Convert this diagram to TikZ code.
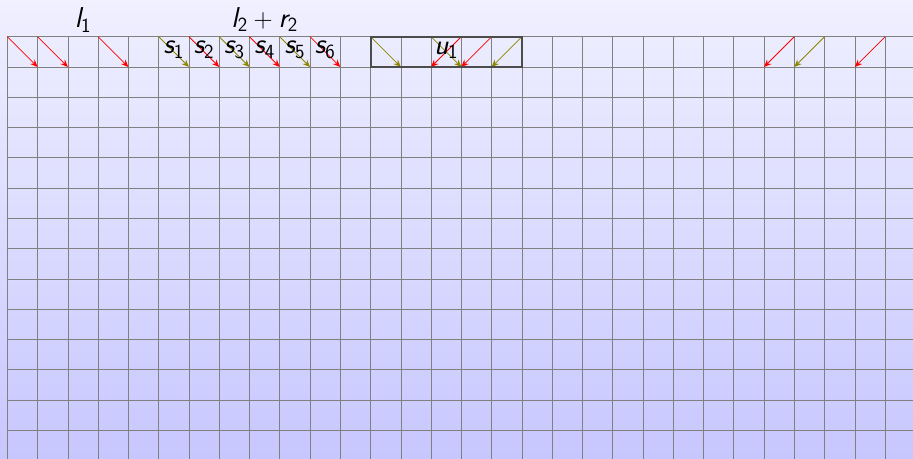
\documentclass[tikz,border=0pt]{standalone}
\usepackage{amsmath}
\usetikzlibrary{arrows.meta}
\tikzset{
  gridline/.style={draw=gray, line width=0.6pt},
  arr/.style={line width=0.75pt, -{Stealth[length=7pt,width=6pt,inset=2.5pt]}},
  boxline/.style={draw=black!70, line width=1.9pt},
  lbl/.style={font=\fontsize{27}{31}\selectfont\sffamily, inner sep=0pt, anchor=base}
}
\newcommand\vv[2]{$\textsl{\textsf{#1}}_{\textsf{#2}}$}
\begin{document}
\begin{tikzpicture}[x=1cm,y=1cm]
\useasboundingbox (-0.241,1.212) rectangle (29.92,-13.95);
\shade[top color=blue!6, bottom color=blue!22] (-0.241,1.212) rectangle (29.92,-13.95);
\begin{scope}
\clip (-0.241,1.212) rectangle (29.92,-13.95);
\draw[gridline] (0,-14.5) grid (30.5,0);
\end{scope}
% down-right arrows
\foreach \c/\col in {0/red,1/red,3/red,5/olive,6/red,7/olive,8/red,9/olive,10/red,12/olive,14/olive}
  \draw[arr,\col] (\c,0) -- (\c+1,-1);
% down-left arrows
\foreach \c/\col in {14/red,15/red,16/olive,25/red,26/olive,28/red}
  \draw[arr,\col] (\c+1,0) -- (\c,-1);
\draw[boxline] (12,0) rectangle (17,-1);
\node[lbl] (l1) at (2.5,0.3) {\vv{l}{1}};
\node[lbl] (l2r2) at (8.5,0.32) {$\textsl{\textsf{l}}_{\textsf{2}}+\textsl{\textsf{r}}_{\textsf{2}}$};
\foreach \i [evaluate=\i as \x using \i+4.5] in {1,...,6}
  \node[lbl] (s\i) at (\x,-0.57) {\vv{s}{\i}};
\node[lbl] (u1) at (14.5,-0.58) {\vv{u}{1}};
\end{tikzpicture}
\end{document}
